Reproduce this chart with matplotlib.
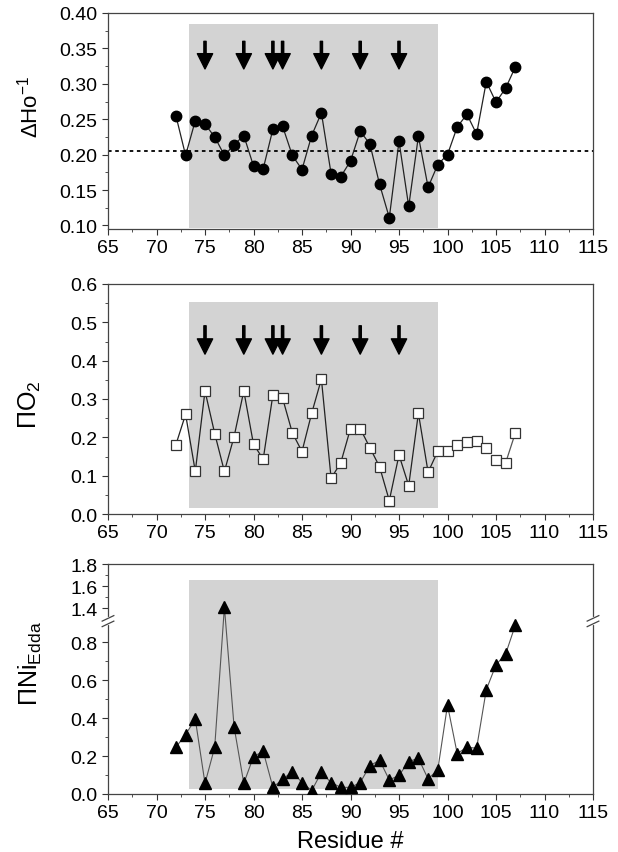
import matplotlib
matplotlib.use("Agg")
import matplotlib.pyplot as plt
import numpy as np
from matplotlib.ticker import MultipleLocator, FixedLocator

plt.rcParams['font.family'] = ['Liberation Sans', 'DejaVu Sans']
plt.rcParams['mathtext.fontset'] = 'custom'
plt.rcParams['mathtext.rm'] = 'Liberation Sans'
plt.rcParams['mathtext.it'] = 'Liberation Sans'
plt.rcParams['mathtext.cal'] = 'Liberation Serif'

residues = np.arange(72, 108)

dHo_inv = [0.255, 0.199, 0.248, 0.243, 0.225, 0.199, 0.214, 0.227, 0.184, 0.180,
           0.236, 0.240, 0.199, 0.179, 0.227, 0.259, 0.173, 0.169, 0.191, 0.233,
           0.215, 0.158, 0.111, 0.219, 0.127, 0.226, 0.154, 0.186, 0.200, 0.239,
           0.257, 0.229, 0.303, 0.274, 0.294, 0.324]
dHo_mean = 0.205

pi_O2 = [0.181, 0.260, 0.111, 0.321, 0.210, 0.111, 0.202, 0.321, 0.182, 0.143,
         0.311, 0.302, 0.212, 0.163, 0.263, 0.352, 0.093, 0.134, 0.223, 0.223,
         0.173, 0.123, 0.035, 0.154, 0.074, 0.263, 0.109, 0.164, 0.164, 0.180,
         0.188, 0.191, 0.172, 0.141, 0.134, 0.212]

pi_Ni = [0.246, 0.313, 0.394, 0.056, 0.246, 1.41, 0.353, 0.056, 0.197, 0.225,
         0.035, 0.077, 0.118, 0.060, 0.018, 0.114, 0.060, 0.035, 0.035, 0.060,
         0.149, 0.178, 0.074, 0.098, 0.171, 0.188, 0.079, 0.128, 0.468, 0.213,
         0.246, 0.241, 0.549, 0.680, 0.738, 0.890]

arrow_res = [75, 79, 82, 83, 87, 91, 95]
helix = (73.4, 99.0)

W, H = 618, 853
fig = plt.figure(figsize=(W / 100, H / 100), dpi=100)

def box(top, bottom):
    return [108 / W, (H - bottom) / H, (593 - 108) / W, (bottom - top) / H]

ax1 = fig.add_axes(box(14, 230))
ax2 = fig.add_axes(box(285, 515))
ax3 = fig.add_axes(box(565, 795))

# broken y scale for the bottom panel
lo, hi, d, k = 0.91, 1.285, 0.002, 0.58

def fwd(y):
    y = np.asarray(y, float)
    return np.where(y <= lo, y, np.where(y < hi, lo + (y - lo) * d / (hi - lo),
                                         lo + d + (y - hi) * k))

def inv(u):
    u = np.asarray(u, float)
    return np.where(u <= lo, u, np.where(u < lo + d, lo + (u - lo) * (hi - lo) / d,
                                         hi + (u - lo - d) / k))

ax3.set_yscale('function', functions=(fwd, inv))

shade = '#d3d3d3'
ax1.fill_between(helix, 0.097, 0.385, color=shade, lw=0, zorder=0)
ax2.fill_between(helix, 0.015, 0.552, color=shade, lw=0, zorder=0)
ax3.fill_between(helix, 0.026, 1.653, color=shade, lw=0, zorder=0)

ax1.axhline(dHo_mean, color='black', ls=(0, (2, 2)), lw=1.3, zorder=1)
ax1.plot(residues, dHo_inv, '-', color='#222222', lw=0.9, marker='o', ms=7.5,
         mfc='black', mec='black', zorder=3)

inside = residues <= 100
tail = residues >= 106
ax2.plot(residues[inside], np.array(pi_O2)[inside], '-', color='#222222', lw=0.9, zorder=2)
ax2.plot(residues[tail], np.array(pi_O2)[tail], '-', color='#555555', lw=0.9, zorder=2)
ax2.plot(residues, pi_O2, 's', ms=7, mfc='white', mec='#333333', mew=0.9, zorder=3)

ax3.plot(residues, pi_Ni, '-', color='#555555', lw=0.8, marker='^', ms=8.5,
         mfc='black', mec='black', zorder=3)

for x in arrow_res:
    ax1.annotate('', xy=(x, 0.321), xytext=(x, 0.360),
                 arrowprops=dict(facecolor='black', edgecolor='black', width=1.6,
                                 headwidth=11, headlength=11, shrink=0))
    ax2.annotate('', xy=(x, 0.417), xytext=(x, 0.491),
                 arrowprops=dict(facecolor='black', edgecolor='black', width=1.6,
                                 headwidth=11, headlength=11, shrink=0))

for ax in (ax1, ax2, ax3):
    ax.set_xlim(65, 115)
    ax.xaxis.set_major_locator(MultipleLocator(5))
    ax.xaxis.set_minor_locator(MultipleLocator(2.5))
    ax.tick_params(which='both', direction='out', labelsize=14, color='#333333')
    ax.tick_params(which='major', length=4)
    ax.tick_params(which='minor', length=2.5)
    for s in ax.spines.values():
        s.set_color('#444444')
        s.set_linewidth(0.9)

ax1.set_ylim(0.095, 0.40)
ax1.yaxis.set_major_locator(MultipleLocator(0.05))
ax1.yaxis.set_minor_locator(MultipleLocator(0.025))
ax1.set_yticklabels([f'{v:.2f}' for v in ax1.get_yticks()])

ax2.set_ylim(0, 0.6)
ax2.yaxis.set_major_locator(MultipleLocator(0.1))
ax2.yaxis.set_minor_locator(MultipleLocator(0.05))
ax2.set_yticklabels([f'{v:.1f}' for v in ax2.get_yticks()])

ax3.set_ylim(0, 1.8)
ni_ticks = [0.0, 0.2, 0.4, 0.6, 0.8, 1.4, 1.6, 1.8]
ax3.yaxis.set_major_locator(FixedLocator(ni_ticks))
ax3.yaxis.set_minor_locator(FixedLocator([0.1, 0.3, 0.5, 0.7, 1.5, 1.7]))
ax3.set_yticklabels([f'{v:.1f}' for v in ni_ticks])

# break marks on the broken axis
yb = (fwd(lo + d / 2) - fwd(0)) / (fwd(1.8) - fwd(0))
for xs in (0, 1):
    for off in (-0.012, 0.012):
        ax3.plot([xs - 0.012, xs + 0.012], [yb + off - 0.012, yb + off + 0.012],
                 transform=ax3.transAxes, color='#444444', lw=0.9, clip_on=False, zorder=5)
    ax3.plot([xs, xs], [yb - 0.01, yb + 0.01], transform=ax3.transAxes,
             color='white', lw=3, clip_on=False, zorder=4)

ax3.set_xlabel('Residue #', fontsize=17, labelpad=6)

fig.text(30 / W, 1 - 107 / H, r'$\Delta$Ho$^{-1}$', rotation=90, ha='center', va='center', fontsize=16)
fig.text(30 / W, 1 - 405 / H, r'$\Pi$O$_2$', rotation=90, ha='center', va='center', fontsize=18)
fig.text(30 / W, 1 - 664 / H, r'$\Pi$Ni$_{\mathrm{Edda}}$', rotation=90, ha='center', va='center', fontsize=18)

fig.savefig('out.png', dpi=100)
